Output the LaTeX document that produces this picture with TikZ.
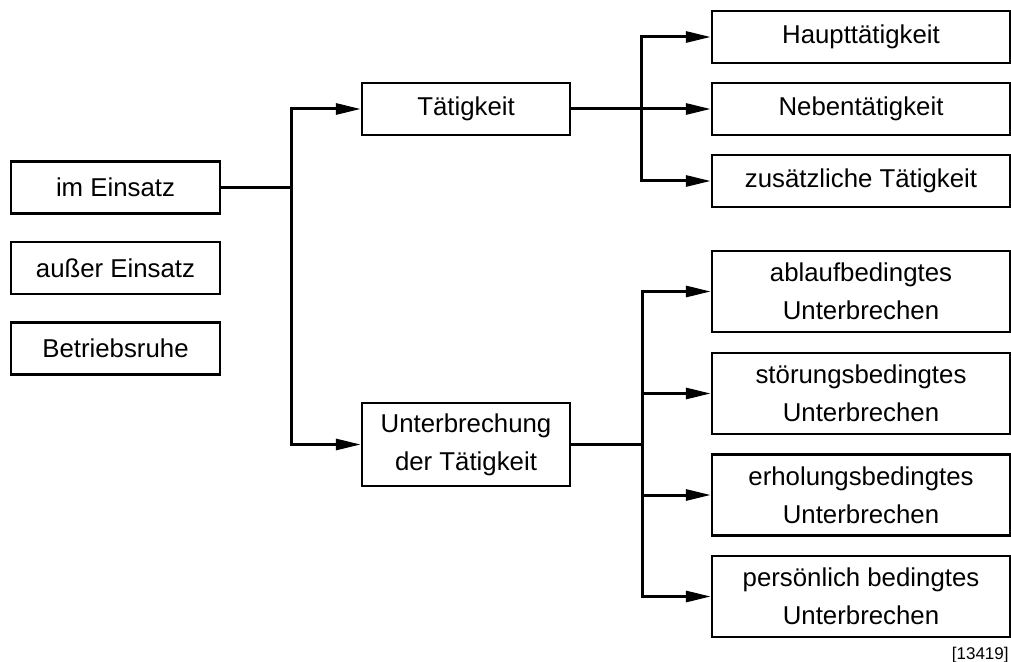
\documentclass[tikz,border=0pt]{standalone}
\usepackage{fontspec}
\setmainfont{Liberation Sans}
\usetikzlibrary{arrows.meta,positioning}
\tikzset{
  kasten/.style={draw,line width=1.2pt,align=center,inner sep=2pt,
    font=\fontsize{12.9}{19}\selectfont},
  klein/.style={kasten,minimum width=104.5pt,minimum height=26pt},
  mittel/.style={kasten,minimum width=104pt,minimum height=26pt},
  breit/.style={kasten,minimum width=149pt,minimum height=26pt},
  hoch/.style={kasten,minimum width=149pt,minimum height=40.5pt},
  linie/.style={line width=1.5pt},
  pfeil/.style={linie,-{Triangle[length=12.5pt,width=5.5pt]}},
}
\begin{document}
\begin{tikzpicture}[x=0.5pt,y=-0.5pt]
  \useasboundingbox (0,0) rectangle (1011,662);
  % linke Spalte
  \node[klein] (einsatz) at (115.5,187.5) {im Einsatz};
  \node[klein] (ausser) at (115.5,268) {außer Einsatz};
  \node[klein] (ruhe) at (115.5,348.5) {Betriebsruhe};
  % mittlere Spalte
  \node[mittel] (taet) at (466,109) {Tätigkeit};
  \node[mittel,minimum height=41.5pt] (unterbr) at (466,444.5)
    {Unterbrechung\\der Tätigkeit};
  % rechte Spalte
  \node[breit] (haupt) at (861,37) {Haupttätigkeit};
  \node[breit] (neben) at (861,109) {Nebentätigkeit};
  \node[breit] (zusatz) at (861,181) {zusätzliche Tätigkeit};
  \node[hoch] (ablauf) at (861,291.5) {ablaufbedingtes\\Unterbrechen};
  \node[hoch] (stoer) at (861,393.5) {störungsbedingtes\\Unterbrechen};
  \node[hoch] (erhol) at (861,495) {erholungsbedingtes\\Unterbrechen};
  \node[hoch] (pers) at (861,596.5) {persönlich bedingtes\\Unterbrechen};
  % Verzweigungen
  \coordinate (gabelA) at (291,187.5);
  \coordinate (gabelB) at (641,109);
  \coordinate (gabelC) at (642,444.5);
  \draw[linie] (einsatz.east) -- (gabelA);
  \draw[pfeil] (gabelA) |- (taet.west);
  \draw[pfeil] (gabelA) |- (unterbr.west);
  \draw[linie] (taet.east) -- (gabelB);
  \foreach \ziel in {haupt,neben,zusatz}
    \draw[pfeil] (gabelB) |- (\ziel.west);
  \draw[linie] (unterbr.east) -- (gabelC);
  \foreach \ziel in {ablauf,stoer,erhol,pers}
    \draw[pfeil] (gabelC) |- (\ziel.west);
  \node[anchor=east,inner sep=0pt,font=\fontsize{8.5}{10}\selectfont] (nummer)
    at (1009,655) {[13419]};
\end{tikzpicture}
\end{document}
